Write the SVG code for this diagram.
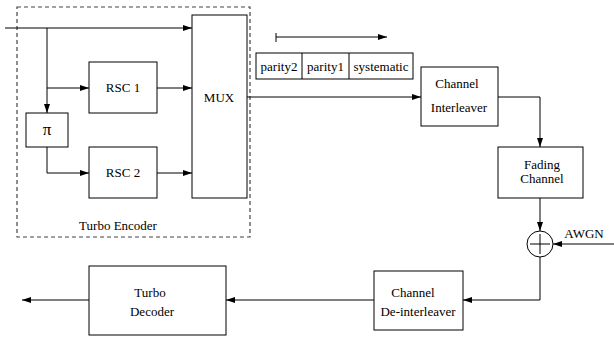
<svg xmlns="http://www.w3.org/2000/svg" width="614" height="339" viewBox="0 0 614 339" font-family="'Liberation Serif', 'DejaVu Serif', serif" font-size="13">
<style>
.box{fill:#fff;stroke:#000;stroke-width:1}
.ln{fill:none;stroke:#000;stroke-width:1}
.t{font-family:'Liberation Serif','DejaVu Serif',serif;font-size:13px;fill:#000;text-anchor:middle}
</style>
<defs>
<marker id="ah" markerWidth="9" markerHeight="6" refX="9" refY="3" orient="auto" markerUnits="userSpaceOnUse">
<path d="M0,0 L9,3 L0,6 Z" fill="#000"/>
</marker>
</defs>
<rect x="0" y="0" width="614" height="339" fill="#fff"/>
<g id="encoder-frame">
<rect x="17" y="7" width="233" height="230" fill="none" stroke="#444" stroke-width="1.2" stroke-dasharray="4,3"/>
<text class="t" x="118" y="230">Turbo Encoder</text>
</g>
<g id="rsc1"><rect class="box" x="89" y="62" width="68" height="51"/><text class="t" x="123" y="92">RSC 1</text></g>
<g id="rsc2"><rect class="box" x="89" y="147" width="68" height="51"/><text class="t" x="123" y="177">RSC 2</text></g>
<g id="pi"><rect class="box" x="26" y="113" width="42" height="34"/><text class="t" x="47" y="135" style="font-size:17px">π</text></g>
<g id="mux"><rect class="box" x="192" y="15" width="55" height="183"/><text class="t" x="219" y="102">MUX</text></g>
<g id="frame">
<rect class="box" x="256" y="53" width="157" height="26"/>
<line class="ln" x1="302" y1="53" x2="302" y2="79"/>
<line class="ln" x1="349" y1="53" x2="349" y2="79"/>
<text class="t" x="279" y="71">parity2</text>
<text class="t" x="325.5" y="71">parity1</text>
<text class="t" x="381" y="71">systematic</text>
</g>
<g id="interleaver"><rect class="box" x="421" y="67" width="77" height="59"/><text class="t" x="457" y="88">Channel</text><text class="t" x="459" y="112">Interleaver</text></g>
<g id="fading"><rect class="box" x="498" y="147" width="85" height="51"/><text class="t" x="542" y="169">Fading</text><text class="t" x="542" y="183">Channel</text></g>
<g id="adder"><circle cx="540" cy="244" r="13" fill="#fff" stroke="#000"/><line class="ln" x1="530" y1="244" x2="550" y2="244"/><line class="ln" x1="540" y1="234" x2="540" y2="254"/><text class="t" x="584" y="238">AWGN</text></g>
<g id="deinterleaver"><rect class="box" x="374" y="271" width="89" height="59"/><text class="t" x="413" y="297">Channel</text><text class="t" x="418" y="316">De-interleaver</text></g>
<g id="decoder"><rect class="box" x="89" y="266" width="137" height="69"/><text class="t" x="150" y="297">Turbo</text><text class="t" x="152" y="316">Decoder</text></g>
<g id="connectors">
<line class="ln" x1="5" y1="28" x2="192" y2="28" marker-end="url(#ah)"/>
<line class="ln" x1="47" y1="28" x2="47" y2="113" marker-end="url(#ah)"/>
<line class="ln" x1="47" y1="88" x2="89" y2="88" marker-end="url(#ah)"/>
<line class="ln" x1="157" y1="88" x2="192" y2="88" marker-end="url(#ah)"/>
<polyline class="ln" points="47,147 47,173 89,173" marker-end="url(#ah)"/>
<line class="ln" x1="157" y1="173" x2="192" y2="173" marker-end="url(#ah)"/>
<line class="ln" x1="247" y1="97" x2="421" y2="97" marker-end="url(#ah)"/>
<line class="ln" x1="276" y1="37" x2="387" y2="37" marker-end="url(#ah)"/>
<line class="ln" x1="276" y1="33" x2="276" y2="42"/>
<polyline class="ln" points="498,97 540,97 540,147" marker-end="url(#ah)"/>
<line class="ln" x1="540" y1="198" x2="540" y2="231" marker-end="url(#ah)"/>
<line class="ln" x1="614" y1="244" x2="553" y2="244" marker-end="url(#ah)"/>
<polyline class="ln" points="540,257 540,300 463,300" marker-end="url(#ah)"/>
<line class="ln" x1="374" y1="300" x2="226" y2="300" marker-end="url(#ah)"/>
<line class="ln" x1="89" y1="300" x2="22" y2="300" marker-end="url(#ah)"/>
</g>
</svg>
